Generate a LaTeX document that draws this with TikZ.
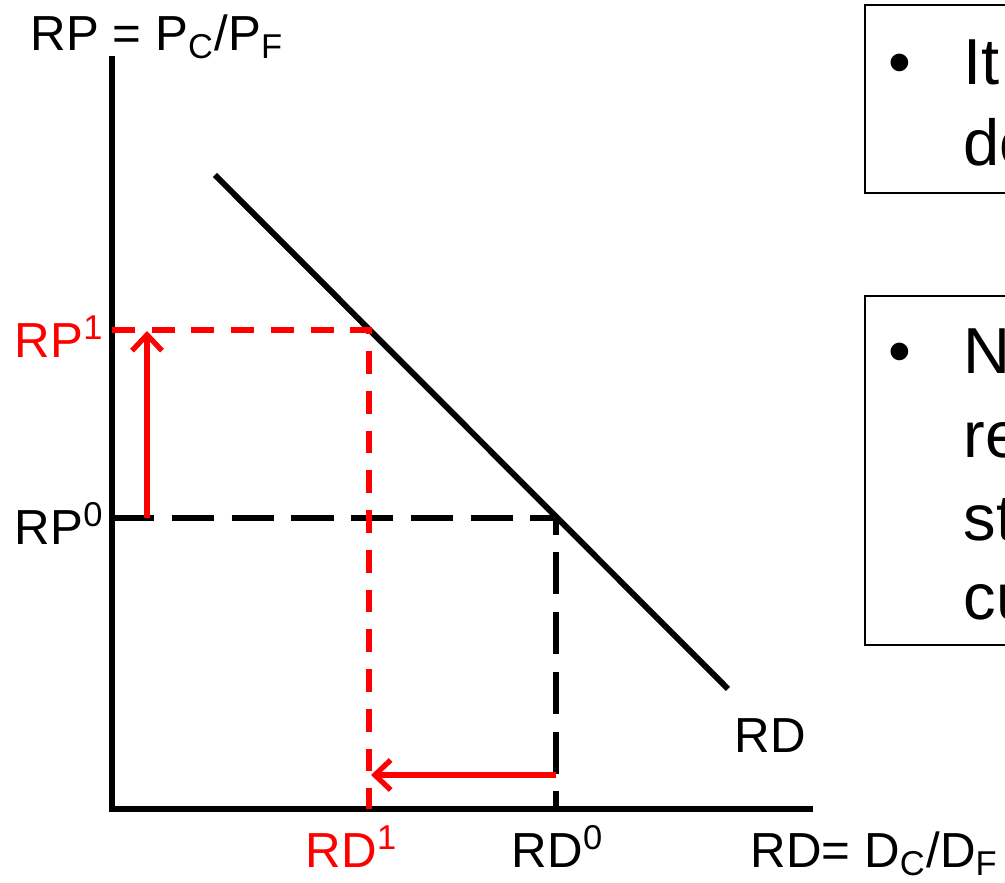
\documentclass[tikz,border=0pt]{standalone}
\usepackage{fontspec}
\setmainfont{Liberation Sans}
\usetikzlibrary{arrows.meta}

\tikzset{
  axis/.style={line width=1.7pt},
  guide/.style={line width=1.5pt, dash pattern=on 12pt off 5pt},
  redguide/.style={red, line width=1.5pt, dash pattern=on 6.5pt off 4.8pt},
  movearrow/.style={red, line width=1.5pt, -{Straight Barb[length=4.5pt,width=8.5pt,line width=1.5pt]}},
  lbl/.style={font=\fontsize{14}{16}\selectfont, inner sep=0pt},
  note/.style={font=\fontsize{18.5}{22}\selectfont, inner sep=0pt, anchor=base west}
}

\begin{document}
\begin{tikzpicture}[x = 0.01cm, y = -0.01cm]

  % positions (pixels of the slide)
  \def\ox{112}
  \def\oy{809}
  \def\rpzero{518}
  \def\rpone{330}
  \def\rdzero{556}
  \def\rdone{369}

  \useasboundingbox (0,0) rectangle (1005,883);
  \clip (0,0) rectangle (1005,883);

  \coordinate (O) at (\ox,\oy);
  \coordinate (ytop) at (\ox,56);
  \coordinate (xend) at (813,\oy);
  \coordinate (dA) at (215,175);
  \coordinate (dB) at (728,689);
  \coordinate (e0) at (\rdzero,\rpzero);
  \coordinate (e1) at (\rdone,\rpone);

  % axes
  \draw[axis] (ytop) -- (O) -- (xend);

  % demand curve
  \draw[axis] (dA) -- (dB);

  % old equilibrium
  \draw[guide] (\ox,\rpzero) -- (e0) -- (\rdzero,\oy);

  % new equilibrium
  \draw[redguide] (\ox,\rpone) -- (e1) -- (\rdone,\oy);

  % shifts
  \coordinate (upA) at (147,\rpzero);
  \coordinate (upB) at (147,\rpone+1);
  \draw[movearrow] (upA) -- (upB);
  \coordinate (leftA) at (\rdzero,775);
  \coordinate (leftB) at (\rdone+2,775);
  \draw[movearrow] (leftA) -- (leftB);

  % labels
  \node[lbl, anchor=base west] (ylab) at (30,51)
    {RP = P\textsubscript{C}/P\textsubscript{F}};
  \node[lbl, anchor=base west] (xlab) at (750,868)
    {RD= D\textsubscript{C}/D\textsubscript{F}};
  \node[lbl, anchor=base west] (dlab) at (734,753) {RD};
  \node[lbl, red, anchor=base east] (rp1) at (105,358) {RP\textsuperscript{1}};
  \node[lbl, anchor=base east] (rp0) at (105,545) {RP\textsuperscript{0}};
  \node[lbl, red, anchor=base] (rd1) at (352,868) {RD\textsuperscript{1}};
  \node[lbl, anchor=base] (rd0) at (558,868) {RD\textsuperscript{0}};

  % text boxes (cut by the slide edge)
  \draw[line width=0.6pt] (865,5) rectangle (1120,193);
  \node[note] (b1) at (888,85) {•};
  \node[note] (t1) at (963,85) {It};
  \node[note] (t2) at (963,166) {do};

  \draw[line width=0.6pt] (865,296) rectangle (1120,645);
  \node[note] (b2) at (888,374) {•};
  \node[note] (t3) at (963,374) {N};
  \node[note] (t4) at (963,458) {re};
  \node[note] (t5) at (963,541) {st};
  \node[note] (t6) at (963,620) {cu};

\end{tikzpicture}
\end{document}
